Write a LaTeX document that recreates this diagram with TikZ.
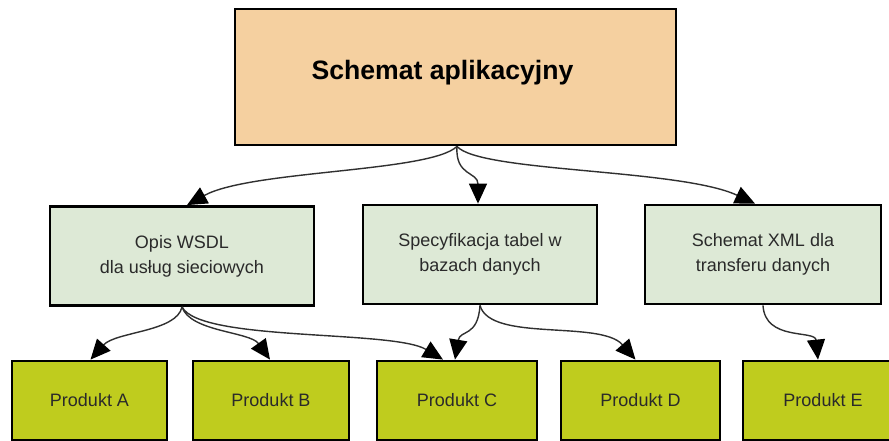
\documentclass[tikz,border=0pt]{standalone}
\usepackage{fontspec}
\setmainfont{Liberation Sans}
\usetikzlibrary{arrows.meta}
\definecolor{topfill}{HTML}{F5D0A0}
\definecolor{midfill}{HTML}{DDE9D6}
\definecolor{botfill}{HTML}{BFCC1E}
\definecolor{linegray}{HTML}{303030}
\definecolor{txtgray}{HTML}{2A2A2A}
\tikzset{
  box/.style={draw=black, line width=2.8pt, inner sep=0pt, align=center, text=txtgray,
    font=\fontsize{18}{25}\selectfont},
  topbox/.style={box, fill=topfill, minimum width=441pt, minimum height=136pt, text=black,
    font=\fontsize{26.6}{30}\selectfont\bfseries},
  midbox/.style={box, fill=midfill, minimum height=99pt},
  prodbox/.style={box, fill=botfill, minimum height=79pt},
  conn/.style={draw=linegray, line width=1.4pt, -{Triangle[length=20pt,width=18pt,color=black]}}
}
\begin{document}
\begin{tikzpicture}[x=1pt,y=-1pt]
\useasboundingbox (0,0) rectangle (889,441);
\fill[white] (0,0) rectangle (889,441);
\node[topbox] (top) at (455.5,77) {\raisebox{14pt}{Schemat aplikacyjny}\hspace{26pt}};
\node[midbox, minimum width=264pt] (wsdl) at (182,256) {Opis WSDL\\dla usług sieciowych};
\node[midbox, minimum width=234pt] (spec) at (480,254.5) {Specyfikacja tabel w\\bazach danych};
\node[midbox, minimum width=236pt] (xml) at (763,254.5) {Schemat XML dla\\transferu danych};
\node[prodbox, minimum width=155pt] (pa) at (89.5,400.5) {Produkt A};
\node[prodbox, minimum width=156pt] (pb) at (271,400.5) {Produkt B};
\node[prodbox, minimum width=160pt] (pc) at (457,400.5) {Produkt C};
\node[prodbox, minimum width=159pt] (pd) at (640.5,400.5) {Produkt D};
\node[prodbox, minimum width=160pt] (pe) at (823,400.5) {Produkt E};
% top level connectors
\draw[conn] ([xshift=1.5pt]top.south) .. controls +(-27,26) and +(63,-35) .. ([xshift=5pt]wsdl.north);
\draw[conn] ([xshift=1.5pt]top.south) .. controls +(-2,30) and +(0,-32) .. ([xshift=-2pt]spec.north);
\draw[conn] ([xshift=1.5pt]top.south) .. controls +(23,26) and +(-75,-35) .. ([xshift=-8pt]xml.north);
% second level connectors
\draw[conn] (wsdl.south) .. controls +(-5,25) and +(25,-28) .. ([xshift=1pt]pa.north);
\draw[conn] (wsdl.south) .. controls +(8,25) and +(-20,-28) .. ([xshift=-1pt]pb.north);
\draw[conn] (wsdl.south) .. controls +(18,35) and +(-50,-30) .. ([xshift=-14pt]pc.north);
\draw[conn] (spec.south) .. controls +(-2,32) and +(5,-30) .. ([xshift=-2pt]pc.north);
\draw[conn] (spec.south) .. controls +(10,37) and +(-35,-40) .. ([xshift=-5pt]pd.north);
\draw[conn] (xml.south) .. controls +(2,36) and +(-3,-30) .. ([xshift=-5pt]pe.north);
\end{tikzpicture}
\end{document}
